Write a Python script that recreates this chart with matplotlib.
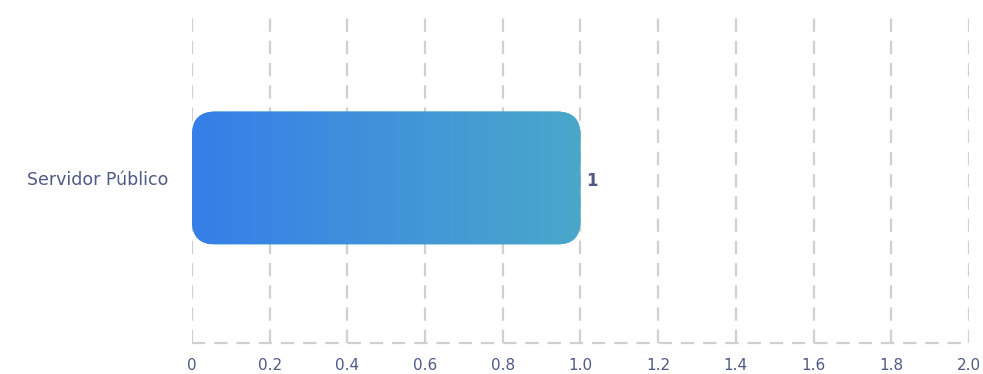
import numpy as np
import matplotlib
matplotlib.use("Agg")
import matplotlib.pyplot as plt
from matplotlib.patches import FancyBboxPatch
from matplotlib.colors import LinearSegmentedColormap

categories = ["Servidor Público"]
values = [1]
xticks = [0, 0.2, 0.4, 0.6, 0.8, 1.0, 1.2, 1.4, 1.6, 1.8, 2.0]
xticklabels = ["0", "0.2", "0.4", "0.6", "0.8", "1.0", "1.2", "1.4", "1.6", "1.8", "2.0"]

text_col = "#4f5a85"
grid_col = "#d0d0d0"

fig = plt.figure(figsize=(9.83, 3.74), dpi=100)
ax = fig.add_axes([0.1953, 0.083, 0.7904, 0.882])
ax.set_xlim(0, 2.0)
ax.set_ylim(-0.5, 0.5)

# gridlines
for x in xticks:
    ax.axvline(x, color=grid_col, lw=1.6, ls=(0, (6, 4)), zorder=0)
ax.axhline(-0.5, color=grid_col, lw=1.6, ls=(0, (6, 4)), zorder=0, clip_on=False)

cmap = LinearSegmentedColormap.from_list("g", ["#367ee9", "#4aa8ca"])
bar_h = 0.403
aspect = (1 / 330) / (2 / 777)
for i, (c, v) in enumerate(zip(categories, values)):
    y0 = i - bar_h / 2
    patch = FancyBboxPatch((0, y0), v, bar_h,
                           boxstyle="round,pad=0,rounding_size=0.06",
                           mutation_aspect=aspect, fc="#4aa8ca", ec="none",
                           zorder=1)
    ax.add_patch(patch)
    grad = np.linspace(0, 1, 256).reshape(1, -1)
    im = ax.imshow(grad, extent=[0, v, y0, y0 + bar_h], aspect="auto",
                   cmap=cmap, zorder=2)
    im.set_clip_path(patch)
    ax.text(v + 0.016, i - 0.01, str(v), va="center", ha="left", fontsize=12,
            fontweight="bold", color=text_col)

ax.set_xlim(0, 2.0)
ax.set_ylim(-0.5, 0.5)
ax.set_yticks(range(len(categories)))
ax.set_yticklabels(categories, fontsize=12.5)
ax.set_xticks(xticks)
ax.set_xticklabels(xticklabels, fontsize=11)
ax.tick_params(axis="both", length=0, colors=text_col)
ax.tick_params(axis="x", pad=11)
ax.tick_params(axis="y", pad=17)
for s in ax.spines.values():
    s.set_visible(False)

fig.savefig("out.png", dpi=100)
